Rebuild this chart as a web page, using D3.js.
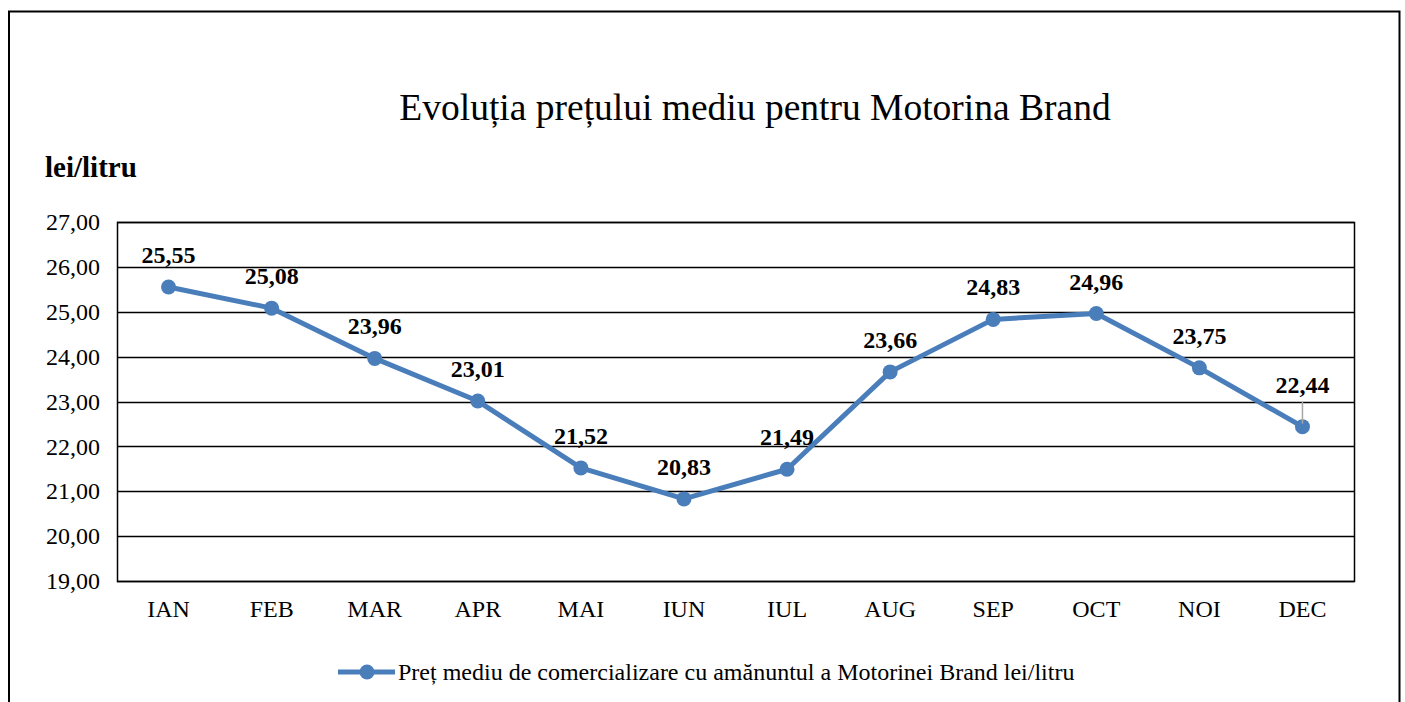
<!DOCTYPE html>
<html>
<head>
<meta charset="utf-8">
<script src="https://cdn.jsdelivr.net/npm/d3@7"></script>
<style>
  body { margin: 0; background: #fff; }
  text { font-family: "Liberation Serif", "Times New Roman", serif; fill: #000; }
</style>
</head>
<body>
<svg id="chart" width="1405" height="702"></svg>
<script>
let months = ["IAN", "FEB", "MAR", "APR", "MAI", "IUN", "IUL", "AUG", "SEP", "OCT", "NOI", "DEC"]
let prices = [25.55, 25.08, 23.96, 23.01, 21.52, 20.83, 21.49, 23.66, 24.83, 24.96, 23.75, 22.44]
let yTicks = [19, 20, 21, 22, 23, 24, 25, 26, 27]

let title = "Evoluția prețului mediu pentru Motorina Brand"
let yTitle = "lei/litru"
let seriesName = "Preț mediu de comercializare cu amănuntul a Motorinei Brand lei/litru"

let blue = "#4a7ebb"
let fmt = v => v.toFixed(2).replace(".", ",")

let svg = d3.select("#chart")

// outer frame (bottom edge falls off the picture)
svg.append("path")
    .attr("d", "M9,710 L9,11.5 L1399.5,11.5 L1399.5,710")
    .attr("fill", "none")
    .attr("stroke", "#000")
    .attr("stroke-width", 2)

let plot = {left: 117, top: 222, right: 1354, bottom: 581}

let x = d3.scaleBand().domain(months).range([plot.left, plot.right])
let y = d3.scaleLinear().domain([19, 27]).range([plot.bottom, plot.top])

svg.append("text")
    .attr("x", 755).attr("y", 120)
    .attr("text-anchor", "middle")
    .style("font-size", "37.5px")
    .text(title)

svg.append("text")
    .attr("x", 45).attr("y", 177)
    .style("font-size", "29px").style("font-weight", "bold")
    .text(yTitle)

// gridlines
svg.append("g")
    .selectAll("line")
    .data(yTicks).enter()
    .append("line")
    .attr("x1", plot.left).attr("x2", plot.right)
    .attr("y1", d => Math.round(y(d)) + 0.5).attr("y2", d => Math.round(y(d)) + 0.5)
    .attr("stroke", "#000").attr("stroke-width", 1.5)

// plot frame
svg.append("rect")
    .attr("x", plot.left + 0.5).attr("y", plot.top + 0.5)
    .attr("width", plot.right - plot.left).attr("height", plot.bottom - plot.top)
    .attr("fill", "none").attr("stroke", "#000").attr("stroke-width", 1.5)

// y axis labels
let yAxis = svg.append("g")
    .attr("transform", "translate(" + plot.left + ",0)")
    .call(d3.axisLeft(y).tickValues(yTicks).tickFormat(fmt).tickSize(0).tickPadding(17))
yAxis.select(".domain").remove()
yAxis.selectAll("text").style("font-size", "24px").style("font-family", "Liberation Serif")

// x axis labels
let xAxis = svg.append("g")
    .attr("transform", "translate(0," + plot.bottom + ")")
    .call(d3.axisBottom(x).tickSize(0).tickPadding(19))
xAxis.select(".domain").remove()
xAxis.selectAll("text").style("font-size", "24px").style("font-family", "Liberation Serif")

let cx = (d, i) => x(months[i]) + x.bandwidth() / 2

let line = d3.line()
    .x((d, i) => cx(d, i))
    .y(d => y(d))

svg.append("path")
    .datum(prices)
    .attr("d", line)
    .attr("fill", "none")
    .attr("stroke", blue)
    .attr("stroke-width", 5)
    .attr("stroke-linejoin", "round")

svg.append("g")
    .selectAll("circle")
    .data(prices).enter()
    .append("circle")
    .attr("cx", cx)
    .attr("cy", d => y(d))
    .attr("r", 7.5)
    .attr("fill", blue)

// leader line for the last label which sits higher
let last = prices.length - 1
svg.append("line")
    .attr("x1", cx(prices[last], last)).attr("x2", cx(prices[last], last))
    .attr("y1", y(prices[last]) - 3).attr("y2", y(prices[last]) - 25)
    .attr("stroke", "#a6a6a6").attr("stroke-width", 1.5)

svg.append("g")
    .selectAll("text")
    .data(prices).enter()
    .append("text")
    .attr("x", cx)
    .attr("y", (d, i) => y(d) - (i == last ? 34 : 24))
    .attr("text-anchor", "middle")
    .style("font-size", "24px").style("font-weight", "bold")
    .text(fmt)

// legend
let lg = svg.append("g").attr("transform", "translate(338,672)")
lg.append("line").attr("x1", 0).attr("x2", 57).attr("y1", 0).attr("y2", 0)
    .attr("stroke", blue).attr("stroke-width", 5)
lg.append("circle").attr("cx", 29).attr("cy", 0).attr("r", 7.5).attr("fill", blue)
lg.append("text").attr("x", 60).attr("y", 8)
    .style("font-size", "24px")
    .text(seriesName)
</script>
</body>
</html>
